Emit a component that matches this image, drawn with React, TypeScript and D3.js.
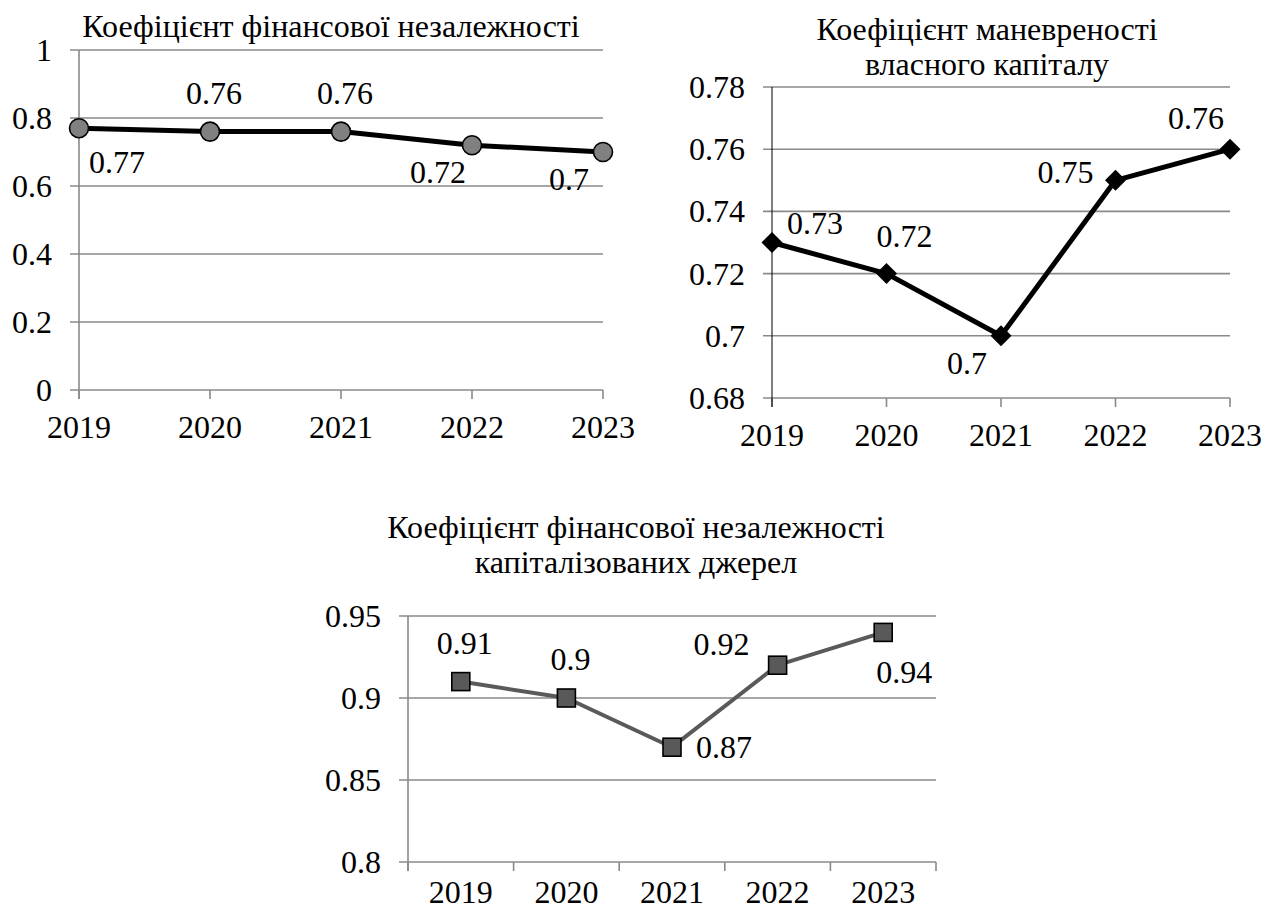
import React from 'react';
import * as d3 from 'd3';

// Years shown on every chart
const years = ['2019', '2020', '2021', '2022', '2023'];

// Financial independence ratio
const independence = [0.77, 0.76, 0.76, 0.72, 0.7];
const independenceTicks = [0, 0.2, 0.4, 0.6, 0.8, 1];
const independenceLabelPos = ['belowRight', 'above', 'above', 'belowLeft', 'belowLeft'];

// Equity manoeuvrability ratio
const manoeuvrability = [0.73, 0.72, 0.7, 0.75, 0.76];
const manoeuvrabilityTicks = [0.68, 0.7, 0.72, 0.74, 0.76, 0.78];
const manoeuvrabilityLabelPos = ['rightAbove', 'aboveRight', 'belowLeft', 'left', 'aboveLeft'];

// Financial independence ratio of capitalised sources
const capitalised = [0.91, 0.9, 0.87, 0.92, 0.94];
const capitalisedTicks = [0.8, 0.85, 0.9, 0.95];
const capitalisedLabelPos = ['above', 'above', 'right', 'aboveLeft', 'belowRight'];

const FONT = '"Liberation Serif", "Times New Roman", serif';
const FS = 32;
const GRID = '#8a8a8a';

// label offsets (dx, dy of the text baseline) relative to the marker
const OFFSETS: Record<string, [number, number]> = {
  above: [4, -28],
  aboveRight: [18, -27],
  aboveLeft: [-34, -20],
  belowLeft: [-34, 38],
  belowRight: [38, 45],
  rightAbove: [43, -9],
  right: [52, 11],
  left: [-50, 3],
};
const OFFSETS3: Record<string, [number, number]> = {
  ...OFFSETS,
  aboveLeft: [-56, -10],
  belowRight: [21, 51],
};

const fmt = (v: number) => String(+v.toFixed(2));

type Props = {
  title: string[];
  titleX: number;
  titleY: number;
  values: number[];
  ticks: number[];
  yDomain: [number, number];
  xRange: [number, number];
  yRange: [number, number];
  band: boolean;
  labelPos: string[];
  offsets: Record<string, [number, number]>;
  axisColor: string;
  lineColor: string;
  lineWidth: number;
  marker: 'circle' | 'diamond' | 'square';
  markerFill: string;
  xLabelGap: number;
};

function LineChart(p: Props) {
  let xPos: (d: string) => number;
  let xTickPos: number[];
  if (p.band) {
    const xb = d3.scaleBand<string>().domain(years).range(p.xRange).padding(0);
    xPos = (d) => (xb(d) as number) + xb.bandwidth() / 2;
    xTickPos = [...years.map((d) => xb(d) as number), p.xRange[1]];
  } else {
    const xp = d3.scalePoint<string>().domain(years).range(p.xRange).padding(0);
    xPos = (d) => xp(d) as number;
    xTickPos = years.map((d) => xp(d) as number);
  }
  const y = d3.scaleLinear().domain(p.yDomain).range(p.yRange);
  const [x0, x1] = p.xRange;
  const pts: [number, number][] = p.values.map((v, i) => [xPos(years[i]), y(v)]);
  const line = d3.line()(pts) as string;
  const base = y(p.yDomain[0]);

  const markerEl = (cx: number, cy: number, key: number) => {
    if (p.marker === 'circle')
      return <circle key={key} cx={cx} cy={cy} r={9.5} fill={p.markerFill} stroke="#000" strokeWidth={1.6} />;
    if (p.marker === 'diamond') {
      const s = 10.5;
      return (
        <path key={key} d={`M${cx},${cy - s}L${cx + s},${cy}L${cx},${cy + s}L${cx - s},${cy}Z`} fill={p.markerFill} />
      );
    }
    const h = 9;
    return <rect key={key} x={cx - h} y={cy - h} width={2 * h} height={2 * h} fill={p.markerFill} stroke="#000" strokeWidth={1.6} />;
  };

  return (
    <g fontFamily={FONT} fontSize={FS} fill="#000">
      {p.title.map((t, i) => (
        <text key={t} x={p.titleX} y={p.titleY + i * 35} textAnchor="middle">
          {t}
        </text>
      ))}
      {/* horizontal gridlines with their short tick stubs */}
      {p.ticks.map((t) => (
        <line key={t} x1={x0 - 9} x2={x1} y1={y(t)} y2={y(t)} stroke={GRID} strokeWidth={1.6} />
      ))}
      {p.ticks.map((t) => (
        <text key={'l' + t} x={x0 - 27} y={y(t)} textAnchor="end" dominantBaseline="central">
          {fmt(t)}
        </text>
      ))}
      {/* category axis ticks */}
      {xTickPos.map((x, i) => (
        <line key={'t' + i} x1={x} x2={x} y1={base} y2={base + 9} stroke={GRID} strokeWidth={1.6} />
      ))}
      <line x1={x0} x2={x0} y1={y(p.yDomain[1])} y2={base + 9} stroke={p.axisColor} strokeWidth={p.axisColor === '#000' ? 1 : 1.6} />
      {years.map((d) => (
        <text key={'x' + d} x={xPos(d)} y={base + p.xLabelGap} textAnchor="middle">
          {d}
        </text>
      ))}
      <path d={line} fill="none" stroke={p.lineColor} strokeWidth={p.lineWidth} strokeLinejoin="round" />
      {pts.map(([cx, cy], i) => markerEl(cx, cy, i))}
      {pts.map(([cx, cy], i) => {
        const [dx, dy] = p.offsets[p.labelPos[i]];
        return (
          <text key={'v' + i} x={cx + dx} y={cy + dy} textAnchor="middle">
            {fmt(p.values[i])}
          </text>
        );
      })}
    </g>
  );
}

export default function App() {
  return (
    <svg
      width={1263}
      height={910}
      style={{ position: 'absolute', left: 0, top: 0, background: '#fff' }}
    >
      <rect width={1263} height={910} fill="#fff" />
      <LineChart
        title={['Коефіцієнт фінансової незалежності']}
        titleX={331}
        titleY={37}
        values={independence}
        ticks={independenceTicks}
        yDomain={[0, 1]}
        xRange={[79, 603]}
        yRange={[390, 50]}
        band={false}
        labelPos={independenceLabelPos}
        offsets={OFFSETS}
        axisColor={GRID}
        lineColor="#000"
        lineWidth={5}
        marker="circle"
        markerFill="#808080"
        xLabelGap={48}
      />
      <LineChart
        title={['Коефіцієнт маневреності', 'власного капіталу']}
        titleX={987}
        titleY={40}
        values={manoeuvrability}
        ticks={manoeuvrabilityTicks}
        yDomain={[0.68, 0.78]}
        xRange={[772, 1230]}
        yRange={[398, 87]}
        band={false}
        labelPos={manoeuvrabilityLabelPos}
        offsets={OFFSETS}
        axisColor="#000"
        lineColor="#000"
        lineWidth={5}
        marker="diamond"
        markerFill="#000"
        xLabelGap={48}
      />
      <LineChart
        title={['Коефіцієнт фінансової незалежності', 'капіталізованих джерел']}
        titleX={636}
        titleY={538}
        values={capitalised}
        ticks={capitalisedTicks}
        yDomain={[0.8, 0.95]}
        xRange={[408, 936]}
        yRange={[862, 616]}
        band={true}
        labelPos={capitalisedLabelPos}
        offsets={OFFSETS3}
        axisColor={GRID}
        lineColor="#5a5a5a"
        lineWidth={4}
        marker="square"
        markerFill="#595959"
        xLabelGap={41}
      />
    </svg>
  );
}
